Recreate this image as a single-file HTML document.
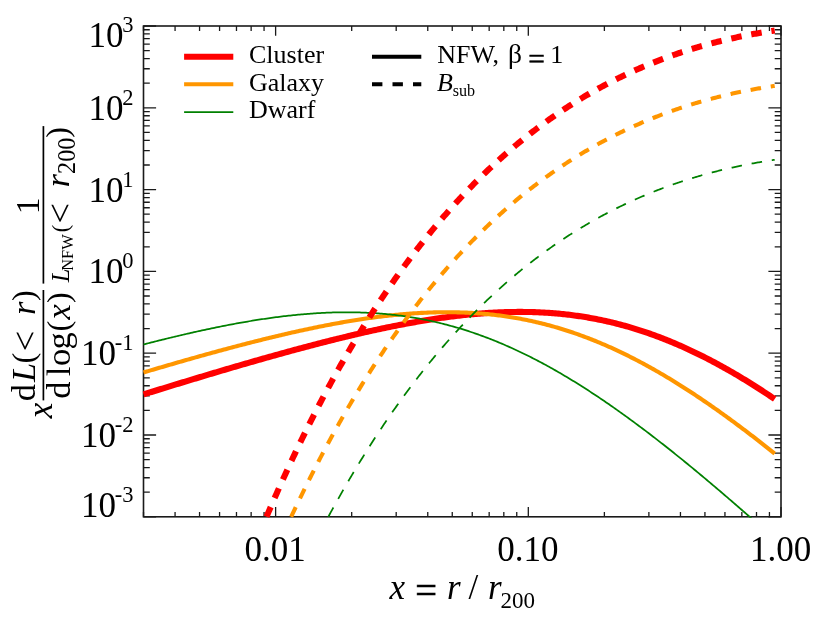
<!DOCTYPE html>
<html><head><meta charset="utf-8"><title>chart</title>
<style>html,body{margin:0;padding:0;background:#fff;}body{width:822px;height:618px;overflow:hidden;}svg{display:block;will-change:transform;}text{font-family:"Liberation Serif",serif;fill:#000;}.i{font-style:italic;}</style></head><body>
<svg width="822" height="618" viewBox="0 0 822 618">
<rect x="0" y="0" width="822" height="618" fill="#fff"/>
<defs><clipPath id="pc"><rect x="142.50" y="25.00" width="639.50" height="492.80"/></clipPath></defs>
<path d="M143.50,516.80 v-4.90 M143.50,26.00 v4.90 M175.07,516.80 v-4.90 M175.07,26.00 v4.90 M199.56,516.80 v-4.90 M199.56,26.00 v4.90 M219.57,516.80 v-4.90 M219.57,26.00 v4.90 M236.48,516.80 v-4.90 M236.48,26.00 v4.90 M251.14,516.80 v-4.90 M251.14,26.00 v4.90 M264.06,516.80 v-4.90 M264.06,26.00 v4.90 M275.62,516.80 v-9.70 M275.62,26.00 v9.70 M351.69,516.80 v-4.90 M351.69,26.00 v4.90 M396.19,516.80 v-4.90 M396.19,26.00 v4.90 M427.76,516.80 v-4.90 M427.76,26.00 v4.90 M452.25,516.80 v-4.90 M452.25,26.00 v4.90 M472.25,516.80 v-4.90 M472.25,26.00 v4.90 M489.17,516.80 v-4.90 M489.17,26.00 v4.90 M503.82,516.80 v-4.90 M503.82,26.00 v4.90 M516.75,516.80 v-4.90 M516.75,26.00 v4.90 M528.31,516.80 v-9.70 M528.31,26.00 v9.70 M604.38,516.80 v-4.90 M604.38,26.00 v4.90 M648.88,516.80 v-4.90 M648.88,26.00 v4.90 M680.45,516.80 v-4.90 M680.45,26.00 v4.90 M704.93,516.80 v-4.90 M704.93,26.00 v4.90 M724.94,516.80 v-4.90 M724.94,26.00 v4.90 M741.86,516.80 v-4.90 M741.86,26.00 v4.90 M756.51,516.80 v-4.90 M756.51,26.00 v4.90 M769.44,516.80 v-4.90 M769.44,26.00 v4.90 M781.00,516.80 v-9.70 M781.00,26.00 v9.70 M143.50,516.80 h12.60 M781.00,516.80 h-12.60 M143.50,492.18 h6.30 M781.00,492.18 h-6.30 M143.50,477.77 h6.30 M781.00,477.77 h-6.30 M143.50,467.55 h6.30 M781.00,467.55 h-6.30 M143.50,459.62 h6.30 M781.00,459.62 h-6.30 M143.50,453.15 h6.30 M781.00,453.15 h-6.30 M143.50,447.67 h6.30 M781.00,447.67 h-6.30 M143.50,442.93 h6.30 M781.00,442.93 h-6.30 M143.50,438.74 h6.30 M781.00,438.74 h-6.30 M143.50,435.00 h12.60 M781.00,435.00 h-12.60 M143.50,410.38 h6.30 M781.00,410.38 h-6.30 M143.50,395.97 h6.30 M781.00,395.97 h-6.30 M143.50,385.75 h6.30 M781.00,385.75 h-6.30 M143.50,377.82 h6.30 M781.00,377.82 h-6.30 M143.50,371.35 h6.30 M781.00,371.35 h-6.30 M143.50,365.87 h6.30 M781.00,365.87 h-6.30 M143.50,361.13 h6.30 M781.00,361.13 h-6.30 M143.50,356.94 h6.30 M781.00,356.94 h-6.30 M143.50,353.20 h12.60 M781.00,353.20 h-12.60 M143.50,328.58 h6.30 M781.00,328.58 h-6.30 M143.50,314.17 h6.30 M781.00,314.17 h-6.30 M143.50,303.95 h6.30 M781.00,303.95 h-6.30 M143.50,296.02 h6.30 M781.00,296.02 h-6.30 M143.50,289.55 h6.30 M781.00,289.55 h-6.30 M143.50,284.07 h6.30 M781.00,284.07 h-6.30 M143.50,279.33 h6.30 M781.00,279.33 h-6.30 M143.50,275.14 h6.30 M781.00,275.14 h-6.30 M143.50,271.40 h12.60 M781.00,271.40 h-12.60 M143.50,246.78 h6.30 M781.00,246.78 h-6.30 M143.50,232.37 h6.30 M781.00,232.37 h-6.30 M143.50,222.15 h6.30 M781.00,222.15 h-6.30 M143.50,214.22 h6.30 M781.00,214.22 h-6.30 M143.50,207.75 h6.30 M781.00,207.75 h-6.30 M143.50,202.27 h6.30 M781.00,202.27 h-6.30 M143.50,197.53 h6.30 M781.00,197.53 h-6.30 M143.50,193.34 h6.30 M781.00,193.34 h-6.30 M143.50,189.60 h12.60 M781.00,189.60 h-12.60 M143.50,164.98 h6.30 M781.00,164.98 h-6.30 M143.50,150.57 h6.30 M781.00,150.57 h-6.30 M143.50,140.35 h6.30 M781.00,140.35 h-6.30 M143.50,132.42 h6.30 M781.00,132.42 h-6.30 M143.50,125.95 h6.30 M781.00,125.95 h-6.30 M143.50,120.47 h6.30 M781.00,120.47 h-6.30 M143.50,115.73 h6.30 M781.00,115.73 h-6.30 M143.50,111.54 h6.30 M781.00,111.54 h-6.30 M143.50,107.80 h12.60 M781.00,107.80 h-12.60 M143.50,83.18 h6.30 M781.00,83.18 h-6.30 M143.50,68.77 h6.30 M781.00,68.77 h-6.30 M143.50,58.55 h6.30 M781.00,58.55 h-6.30 M143.50,50.62 h6.30 M781.00,50.62 h-6.30 M143.50,44.15 h6.30 M781.00,44.15 h-6.30 M143.50,38.67 h6.30 M781.00,38.67 h-6.30 M143.50,33.93 h6.30 M781.00,33.93 h-6.30 M143.50,29.74 h6.30 M781.00,29.74 h-6.30 M143.50,26.00 h12.60 M781.00,26.00 h-12.60" stroke="#1a1a1a" stroke-width="1.3" fill="none"/>
<rect x="143.50" y="26.00" width="637.50" height="490.80" fill="none" stroke="#1a1a1a" stroke-width="1.6"/>
<g clip-path="url(#pc)" fill="none" stroke-linecap="butt" stroke-linejoin="round">
<path d="M143.50,394.40 L145.08,393.91 L146.66,393.42 L148.23,392.93 L149.81,392.44 L151.39,391.96 L152.97,391.47 L154.55,390.98 L156.12,390.50 L157.70,390.01 L159.28,389.52 L160.86,389.04 L162.44,388.55 L164.01,388.07 L165.59,387.58 L167.17,387.10 L168.75,386.62 L170.33,386.13 L171.90,385.65 L173.48,385.17 L175.06,384.69 L176.64,384.20 L178.22,383.72 L179.79,383.24 L181.37,382.76 L182.95,382.28 L184.53,381.80 L186.11,381.32 L187.68,380.84 L189.26,380.37 L190.84,379.89 L192.42,379.41 L194.00,378.93 L195.57,378.46 L197.15,377.98 L198.73,377.51 L200.31,377.03 L201.89,376.56 L203.46,376.09 L205.04,375.61 L206.62,375.14 L208.20,374.67 L209.78,374.20 L211.35,373.72 L212.93,373.25 L214.51,372.78 L216.09,372.32 L217.67,371.85 L219.24,371.38 L220.82,370.91 L222.40,370.44 L223.98,369.98 L225.56,369.51 L227.13,369.05 L228.71,368.58 L230.29,368.12 L231.87,367.66 L233.45,367.19 L235.02,366.73 L236.60,366.27 L238.18,365.81 L239.76,365.35 L241.34,364.89 L242.91,364.44 L244.49,363.98 L246.07,363.52 L247.65,363.07 L249.23,362.61 L250.80,362.16 L252.38,361.70 L253.96,361.25 L255.54,360.80 L257.12,360.35 L258.69,359.90 L260.27,359.45 L261.85,359.00 L263.43,358.55 L265.01,358.11 L266.58,357.66 L268.16,357.22 L269.74,356.77 L271.32,356.33 L272.90,355.89 L274.47,355.45 L276.05,355.01 L277.63,354.57 L279.21,354.13 L280.79,353.69 L282.36,353.26 L283.94,352.82 L285.52,352.39 L287.10,351.95 L288.68,351.52 L290.25,351.09 L291.83,350.66 L293.41,350.23 L294.99,349.81 L296.57,349.38 L298.14,348.96 L299.72,348.53 L301.30,348.11 L302.88,347.69 L304.46,347.27 L306.03,346.85 L307.61,346.43 L309.19,346.01 L310.77,345.60 L312.35,345.19 L313.92,344.77 L315.50,344.36 L317.08,343.95 L318.66,343.55 L320.24,343.14 L321.81,342.73 L323.39,342.33 L324.97,341.93 L326.55,341.53 L328.13,341.13 L329.70,340.73 L331.28,340.33 L332.86,339.94 L334.44,339.54 L336.02,339.15 L337.59,338.76 L339.17,338.37 L340.75,337.99 L342.33,337.60 L343.91,337.22 L345.48,336.84 L347.06,336.46 L348.64,336.08 L350.22,335.70 L351.80,335.33 L353.37,334.96 L354.95,334.59 L356.53,334.22 L358.11,333.85 L359.69,333.49 L361.26,333.12 L362.84,332.76 L364.42,332.40 L366.00,332.05 L367.58,331.69 L369.15,331.34 L370.73,330.99 L372.31,330.64 L373.89,330.29 L375.47,329.95 L377.04,329.61 L378.62,329.27 L380.20,328.93 L381.78,328.59 L383.36,328.26 L384.93,327.93 L386.51,327.60 L388.09,327.28 L389.67,326.95 L391.25,326.63 L392.82,326.31 L394.40,326.00 L395.98,325.68 L397.56,325.37 L399.14,325.07 L400.71,324.76 L402.29,324.46 L403.87,324.16 L405.45,323.86 L407.03,323.57 L408.60,323.27 L410.18,322.99 L411.76,322.70 L413.34,322.42 L414.92,322.14 L416.49,321.86 L418.07,321.58 L419.65,321.31 L421.23,321.04 L422.81,320.78 L424.38,320.52 L425.96,320.26 L427.54,320.00 L429.12,319.75 L430.70,319.50 L432.27,319.26 L433.85,319.01 L435.43,318.77 L437.01,318.54 L438.59,318.31 L440.16,318.08 L441.74,317.85 L443.32,317.63 L444.90,317.41 L446.48,317.20 L448.05,316.99 L449.63,316.78 L451.21,316.57 L452.79,316.37 L454.37,316.18 L455.94,315.99 L457.52,315.80 L459.10,315.61 L460.68,315.43 L462.26,315.26 L463.83,315.09 L465.41,314.92 L466.99,314.75 L468.57,314.59 L470.15,314.44 L471.72,314.29 L473.30,314.14 L474.88,314.00 L476.46,313.86 L478.04,313.72 L479.61,313.59 L481.19,313.47 L482.77,313.35 L484.35,313.23 L485.93,313.12 L487.50,313.01 L489.08,312.91 L490.66,312.81 L492.24,312.72 L493.82,312.63 L495.39,312.55 L496.97,312.47 L498.55,312.40 L500.13,312.33 L501.71,312.27 L503.28,312.21 L504.86,312.16 L506.44,312.11 L508.02,312.07 L509.60,312.03 L511.17,312.00 L512.75,311.97 L514.33,311.95 L515.91,311.93 L517.49,311.92 L519.06,311.91 L520.64,311.91 L522.22,311.92 L523.80,311.93 L525.38,311.95 L526.95,311.97 L528.53,312.00 L530.11,312.03 L531.69,312.07 L533.27,312.12 L534.84,312.17 L536.42,312.22 L538.00,312.29 L539.58,312.36 L541.16,312.43 L542.73,312.51 L544.31,312.60 L545.89,312.69 L547.47,312.79 L549.05,312.90 L550.62,313.01 L552.20,313.13 L553.78,313.25 L555.36,313.38 L556.94,313.52 L558.51,313.66 L560.09,313.81 L561.67,313.96 L563.25,314.13 L564.83,314.30 L566.40,314.47 L567.98,314.65 L569.56,314.84 L571.14,315.04 L572.72,315.24 L574.29,315.45 L575.87,315.66 L577.45,315.89 L579.03,316.11 L580.61,316.35 L582.18,316.59 L583.76,316.84 L585.34,317.10 L586.92,317.36 L588.50,317.63 L590.07,317.91 L591.65,318.19 L593.23,318.48 L594.81,318.78 L596.39,319.09 L597.96,319.40 L599.54,319.72 L601.12,320.04 L602.70,320.38 L604.28,320.72 L605.85,321.06 L607.43,321.42 L609.01,321.78 L610.59,322.15 L612.17,322.53 L613.74,322.91 L615.32,323.30 L616.90,323.70 L618.48,324.11 L620.06,324.52 L621.63,324.94 L623.21,325.36 L624.79,325.80 L626.37,326.24 L627.95,326.69 L629.52,327.15 L631.10,327.61 L632.68,328.08 L634.26,328.56 L635.84,329.05 L637.41,329.54 L638.99,330.04 L640.57,330.55 L642.15,331.06 L643.73,331.58 L645.30,332.11 L646.88,332.65 L648.46,333.20 L650.04,333.75 L651.62,334.31 L653.19,334.87 L654.77,335.45 L656.35,336.03 L657.93,336.62 L659.51,337.21 L661.08,337.82 L662.66,338.43 L664.24,339.04 L665.82,339.67 L667.40,340.30 L668.97,340.94 L670.55,341.59 L672.13,342.24 L673.71,342.90 L675.29,343.57 L676.86,344.25 L678.44,344.93 L680.02,345.62 L681.60,346.31 L683.18,347.02 L684.75,347.73 L686.33,348.45 L687.91,349.17 L689.49,349.90 L691.07,350.64 L692.64,351.39 L694.22,352.14 L695.80,352.90 L697.38,353.67 L698.96,354.44 L700.53,355.22 L702.11,356.01 L703.69,356.80 L705.27,357.60 L706.85,358.41 L708.42,359.23 L710.00,360.05 L711.58,360.87 L713.16,361.71 L714.74,362.55 L716.31,363.40 L717.89,364.25 L719.47,365.11 L721.05,365.98 L722.63,366.85 L724.20,367.73 L725.78,368.62 L727.36,369.51 L728.94,370.41 L730.52,371.31 L732.09,372.22 L733.67,373.14 L735.25,374.06 L736.83,374.99 L738.41,375.93 L739.98,376.87 L741.56,377.82 L743.14,378.77 L744.72,379.73 L746.30,380.70 L747.87,381.67 L749.45,382.65 L751.03,383.63 L752.61,384.62 L754.19,385.62 L755.76,386.62 L757.34,387.62 L758.92,388.63 L760.50,389.65 L762.08,390.67 L763.65,391.70 L765.23,392.74 L766.81,393.77 L768.39,394.82 L769.97,395.87 L771.54,396.92 L773.12,397.98 L774.70,399.05" stroke="#ff0000" stroke-width="6.1"/>
<path d="M143.50,372.50 L145.08,372.03 L146.66,371.56 L148.23,371.09 L149.81,370.63 L151.39,370.16 L152.97,369.70 L154.55,369.23 L156.12,368.77 L157.70,368.30 L159.28,367.84 L160.86,367.38 L162.44,366.92 L164.01,366.46 L165.59,366.00 L167.17,365.54 L168.75,365.08 L170.33,364.62 L171.90,364.16 L173.48,363.71 L175.06,363.25 L176.64,362.80 L178.22,362.34 L179.79,361.89 L181.37,361.44 L182.95,360.99 L184.53,360.53 L186.11,360.09 L187.68,359.64 L189.26,359.19 L190.84,358.74 L192.42,358.29 L194.00,357.85 L195.57,357.40 L197.15,356.96 L198.73,356.52 L200.31,356.08 L201.89,355.64 L203.46,355.20 L205.04,354.76 L206.62,354.32 L208.20,353.88 L209.78,353.45 L211.35,353.01 L212.93,352.58 L214.51,352.15 L216.09,351.71 L217.67,351.28 L219.24,350.85 L220.82,350.43 L222.40,350.00 L223.98,349.57 L225.56,349.15 L227.13,348.73 L228.71,348.30 L230.29,347.88 L231.87,347.46 L233.45,347.04 L235.02,346.63 L236.60,346.21 L238.18,345.80 L239.76,345.38 L241.34,344.97 L242.91,344.56 L244.49,344.15 L246.07,343.74 L247.65,343.34 L249.23,342.93 L250.80,342.53 L252.38,342.13 L253.96,341.73 L255.54,341.33 L257.12,340.93 L258.69,340.53 L260.27,340.14 L261.85,339.75 L263.43,339.35 L265.01,338.96 L266.58,338.58 L268.16,338.19 L269.74,337.81 L271.32,337.42 L272.90,337.04 L274.47,336.66 L276.05,336.29 L277.63,335.91 L279.21,335.54 L280.79,335.16 L282.36,334.79 L283.94,334.43 L285.52,334.06 L287.10,333.69 L288.68,333.33 L290.25,332.97 L291.83,332.61 L293.41,332.26 L294.99,331.90 L296.57,331.55 L298.14,331.20 L299.72,330.85 L301.30,330.51 L302.88,330.16 L304.46,329.82 L306.03,329.48 L307.61,329.14 L309.19,328.81 L310.77,328.48 L312.35,328.15 L313.92,327.82 L315.50,327.49 L317.08,327.17 L318.66,326.85 L320.24,326.53 L321.81,326.22 L323.39,325.91 L324.97,325.60 L326.55,325.29 L328.13,324.98 L329.70,324.68 L331.28,324.38 L332.86,324.09 L334.44,323.79 L336.02,323.50 L337.59,323.21 L339.17,322.93 L340.75,322.64 L342.33,322.36 L343.91,322.09 L345.48,321.81 L347.06,321.54 L348.64,321.28 L350.22,321.01 L351.80,320.75 L353.37,320.49 L354.95,320.24 L356.53,319.99 L358.11,319.74 L359.69,319.49 L361.26,319.25 L362.84,319.01 L364.42,318.78 L366.00,318.55 L367.58,318.32 L369.15,318.09 L370.73,317.87 L372.31,317.66 L373.89,317.44 L375.47,317.23 L377.04,317.03 L378.62,316.82 L380.20,316.62 L381.78,316.43 L383.36,316.24 L384.93,316.05 L386.51,315.87 L388.09,315.69 L389.67,315.51 L391.25,315.34 L392.82,315.17 L394.40,315.01 L395.98,314.85 L397.56,314.70 L399.14,314.55 L400.71,314.40 L402.29,314.26 L403.87,314.12 L405.45,313.99 L407.03,313.86 L408.60,313.74 L410.18,313.62 L411.76,313.50 L413.34,313.39 L414.92,313.29 L416.49,313.18 L418.07,313.09 L419.65,313.00 L421.23,312.91 L422.81,312.83 L424.38,312.75 L425.96,312.68 L427.54,312.61 L429.12,312.55 L430.70,312.49 L432.27,312.44 L433.85,312.39 L435.43,312.35 L437.01,312.32 L438.59,312.29 L440.16,312.26 L441.74,312.24 L443.32,312.22 L444.90,312.21 L446.48,312.21 L448.05,312.21 L449.63,312.22 L451.21,312.23 L452.79,312.25 L454.37,312.27 L455.94,312.30 L457.52,312.34 L459.10,312.38 L460.68,312.43 L462.26,312.48 L463.83,312.54 L465.41,312.60 L466.99,312.67 L468.57,312.75 L470.15,312.83 L471.72,312.92 L473.30,313.01 L474.88,313.11 L476.46,313.22 L478.04,313.33 L479.61,313.45 L481.19,313.58 L482.77,313.71 L484.35,313.85 L485.93,313.99 L487.50,314.14 L489.08,314.30 L490.66,314.47 L492.24,314.64 L493.82,314.81 L495.39,315.00 L496.97,315.19 L498.55,315.38 L500.13,315.59 L501.71,315.80 L503.28,316.01 L504.86,316.24 L506.44,316.47 L508.02,316.71 L509.60,316.95 L511.17,317.20 L512.75,317.46 L514.33,317.72 L515.91,318.00 L517.49,318.27 L519.06,318.56 L520.64,318.85 L522.22,319.15 L523.80,319.46 L525.38,319.77 L526.95,320.09 L528.53,320.42 L530.11,320.76 L531.69,321.10 L533.27,321.45 L534.84,321.81 L536.42,322.17 L538.00,322.54 L539.58,322.92 L541.16,323.30 L542.73,323.70 L544.31,324.10 L545.89,324.50 L547.47,324.92 L549.05,325.34 L550.62,325.77 L552.20,326.20 L553.78,326.65 L555.36,327.10 L556.94,327.56 L558.51,328.02 L560.09,328.50 L561.67,328.98 L563.25,329.46 L564.83,329.96 L566.40,330.46 L567.98,330.97 L569.56,331.49 L571.14,332.01 L572.72,332.54 L574.29,333.08 L575.87,333.63 L577.45,334.18 L579.03,334.74 L580.61,335.31 L582.18,335.89 L583.76,336.47 L585.34,337.06 L586.92,337.66 L588.50,338.26 L590.07,338.87 L591.65,339.49 L593.23,340.12 L594.81,340.75 L596.39,341.40 L597.96,342.04 L599.54,342.70 L601.12,343.36 L602.70,344.03 L604.28,344.71 L605.85,345.39 L607.43,346.08 L609.01,346.78 L610.59,347.49 L612.17,348.20 L613.74,348.92 L615.32,349.65 L616.90,350.38 L618.48,351.12 L620.06,351.87 L621.63,352.62 L623.21,353.39 L624.79,354.15 L626.37,354.93 L627.95,355.71 L629.52,356.50 L631.10,357.30 L632.68,358.10 L634.26,358.91 L635.84,359.72 L637.41,360.55 L638.99,361.38 L640.57,362.21 L642.15,363.05 L643.73,363.90 L645.30,364.76 L646.88,365.62 L648.46,366.49 L650.04,367.36 L651.62,368.24 L653.19,369.13 L654.77,370.03 L656.35,370.93 L657.93,371.83 L659.51,372.75 L661.08,373.66 L662.66,374.59 L664.24,375.52 L665.82,376.46 L667.40,377.40 L668.97,378.35 L670.55,379.31 L672.13,380.27 L673.71,381.23 L675.29,382.21 L676.86,383.19 L678.44,384.17 L680.02,385.16 L681.60,386.16 L683.18,387.16 L684.75,388.17 L686.33,389.18 L687.91,390.20 L689.49,391.22 L691.07,392.25 L692.64,393.29 L694.22,394.33 L695.80,395.37 L697.38,396.42 L698.96,397.48 L700.53,398.54 L702.11,399.61 L703.69,400.68 L705.27,401.76 L706.85,402.84 L708.42,403.93 L710.00,405.02 L711.58,406.12 L713.16,407.22 L714.74,408.32 L716.31,409.44 L717.89,410.55 L719.47,411.67 L721.05,412.80 L722.63,413.93 L724.20,415.06 L725.78,416.20 L727.36,417.35 L728.94,418.50 L730.52,419.65 L732.09,420.81 L733.67,421.97 L735.25,423.14 L736.83,424.31 L738.41,425.48 L739.98,426.66 L741.56,427.84 L743.14,429.03 L744.72,430.22 L746.30,431.42 L747.87,432.62 L749.45,433.82 L751.03,435.03 L752.61,436.24 L754.19,437.46 L755.76,438.68 L757.34,439.90 L758.92,441.13 L760.50,442.36 L762.08,443.59 L763.65,444.83 L765.23,446.07 L766.81,447.31 L768.39,448.56 L769.97,449.81 L771.54,451.07 L773.12,452.33 L774.70,453.59" stroke="#ff9600" stroke-width="4.1"/>
<path d="M143.50,344.49 L145.08,344.08 L146.66,343.67 L148.23,343.27 L149.81,342.86 L151.39,342.46 L152.97,342.06 L154.55,341.66 L156.12,341.26 L157.70,340.86 L159.28,340.47 L160.86,340.07 L162.44,339.68 L164.01,339.29 L165.59,338.90 L167.17,338.52 L168.75,338.13 L170.33,337.75 L171.90,337.36 L173.48,336.98 L175.06,336.60 L176.64,336.23 L178.22,335.85 L179.79,335.48 L181.37,335.11 L182.95,334.74 L184.53,334.37 L186.11,334.00 L187.68,333.64 L189.26,333.28 L190.84,332.92 L192.42,332.56 L194.00,332.20 L195.57,331.85 L197.15,331.50 L198.73,331.15 L200.31,330.80 L201.89,330.46 L203.46,330.11 L205.04,329.77 L206.62,329.44 L208.20,329.10 L209.78,328.77 L211.35,328.43 L212.93,328.10 L214.51,327.78 L216.09,327.45 L217.67,327.13 L219.24,326.81 L220.82,326.50 L222.40,326.18 L223.98,325.87 L225.56,325.56 L227.13,325.25 L228.71,324.95 L230.29,324.65 L231.87,324.35 L233.45,324.05 L235.02,323.76 L236.60,323.47 L238.18,323.18 L239.76,322.90 L241.34,322.62 L242.91,322.34 L244.49,322.06 L246.07,321.79 L247.65,321.52 L249.23,321.25 L250.80,320.99 L252.38,320.73 L253.96,320.47 L255.54,320.22 L257.12,319.97 L258.69,319.72 L260.27,319.48 L261.85,319.24 L263.43,319.00 L265.01,318.77 L266.58,318.54 L268.16,318.31 L269.74,318.09 L271.32,317.87 L272.90,317.65 L274.47,317.44 L276.05,317.23 L277.63,317.02 L279.21,316.82 L280.79,316.62 L282.36,316.43 L283.94,316.24 L285.52,316.05 L287.10,315.87 L288.68,315.69 L290.25,315.52 L291.83,315.35 L293.41,315.18 L294.99,315.02 L296.57,314.87 L298.14,314.71 L299.72,314.56 L301.30,314.42 L302.88,314.28 L304.46,314.14 L306.03,314.01 L307.61,313.88 L309.19,313.76 L310.77,313.64 L312.35,313.53 L313.92,313.42 L315.50,313.32 L317.08,313.22 L318.66,313.12 L320.24,313.03 L321.81,312.95 L323.39,312.87 L324.97,312.79 L326.55,312.72 L328.13,312.66 L329.70,312.60 L331.28,312.54 L332.86,312.49 L334.44,312.44 L336.02,312.40 L337.59,312.37 L339.17,312.34 L340.75,312.32 L342.33,312.30 L343.91,312.28 L345.48,312.28 L347.06,312.27 L348.64,312.28 L350.22,312.29 L351.80,312.30 L353.37,312.32 L354.95,312.35 L356.53,312.38 L358.11,312.41 L359.69,312.46 L361.26,312.51 L362.84,312.56 L364.42,312.62 L366.00,312.69 L367.58,312.76 L369.15,312.84 L370.73,312.92 L372.31,313.01 L373.89,313.11 L375.47,313.21 L377.04,313.32 L378.62,313.43 L380.20,313.56 L381.78,313.68 L383.36,313.82 L384.93,313.96 L386.51,314.10 L388.09,314.26 L389.67,314.42 L391.25,314.58 L392.82,314.76 L394.40,314.94 L395.98,315.12 L397.56,315.31 L399.14,315.51 L400.71,315.72 L402.29,315.93 L403.87,316.15 L405.45,316.38 L407.03,316.61 L408.60,316.85 L410.18,317.09 L411.76,317.35 L413.34,317.61 L414.92,317.88 L416.49,318.15 L418.07,318.43 L419.65,318.72 L421.23,319.01 L422.81,319.32 L424.38,319.62 L425.96,319.94 L427.54,320.26 L429.12,320.59 L430.70,320.93 L432.27,321.28 L433.85,321.63 L435.43,321.99 L437.01,322.35 L438.59,322.73 L440.16,323.11 L441.74,323.49 L443.32,323.89 L444.90,324.29 L446.48,324.70 L448.05,325.12 L449.63,325.54 L451.21,325.97 L452.79,326.41 L454.37,326.86 L455.94,327.31 L457.52,327.77 L459.10,328.24 L460.68,328.71 L462.26,329.20 L463.83,329.69 L465.41,330.18 L466.99,330.69 L468.57,331.20 L470.15,331.72 L471.72,332.25 L473.30,332.78 L474.88,333.32 L476.46,333.87 L478.04,334.43 L479.61,334.99 L481.19,335.56 L482.77,336.14 L484.35,336.72 L485.93,337.32 L487.50,337.92 L489.08,338.52 L490.66,339.14 L492.24,339.76 L493.82,340.39 L495.39,341.03 L496.97,341.67 L498.55,342.32 L500.13,342.98 L501.71,343.64 L503.28,344.31 L504.86,344.99 L506.44,345.68 L508.02,346.37 L509.60,347.08 L511.17,347.78 L512.75,348.50 L514.33,349.22 L515.91,349.95 L517.49,350.68 L519.06,351.43 L520.64,352.18 L522.22,352.93 L523.80,353.70 L525.38,354.47 L526.95,355.25 L528.53,356.03 L530.11,356.82 L531.69,357.62 L533.27,358.42 L534.84,359.24 L536.42,360.05 L538.00,360.88 L539.58,361.71 L541.16,362.55 L542.73,363.39 L544.31,364.24 L545.89,365.10 L547.47,365.96 L549.05,366.84 L550.62,367.71 L552.20,368.60 L553.78,369.49 L555.36,370.38 L556.94,371.28 L558.51,372.19 L560.09,373.11 L561.67,374.03 L563.25,374.95 L564.83,375.89 L566.40,376.83 L567.98,377.77 L569.56,378.72 L571.14,379.68 L572.72,380.64 L574.29,381.61 L575.87,382.59 L577.45,383.57 L579.03,384.56 L580.61,385.55 L582.18,386.55 L583.76,387.55 L585.34,388.56 L586.92,389.57 L588.50,390.59 L590.07,391.62 L591.65,392.65 L593.23,393.69 L594.81,394.73 L596.39,395.78 L597.96,396.83 L599.54,397.89 L601.12,398.95 L602.70,400.02 L604.28,401.09 L605.85,402.17 L607.43,403.25 L609.01,404.34 L610.59,405.44 L612.17,406.54 L613.74,407.64 L615.32,408.75 L616.90,409.86 L618.48,410.98 L620.06,412.10 L621.63,413.23 L623.21,414.36 L624.79,415.50 L626.37,416.64 L627.95,417.78 L629.52,418.93 L631.10,420.09 L632.68,421.25 L634.26,422.41 L635.84,423.58 L637.41,424.75 L638.99,425.93 L640.57,427.11 L642.15,428.29 L643.73,429.48 L645.30,430.67 L646.88,431.87 L648.46,433.07 L650.04,434.28 L651.62,435.49 L653.19,436.70 L654.77,437.92 L656.35,439.14 L657.93,440.36 L659.51,441.59 L661.08,442.82 L662.66,444.05 L664.24,445.29 L665.82,446.54 L667.40,447.78 L668.97,449.03 L670.55,450.29 L672.13,451.54 L673.71,452.80 L675.29,454.07 L676.86,455.33 L678.44,456.60 L680.02,457.88 L681.60,459.15 L683.18,460.43 L684.75,461.71 L686.33,463.00 L687.91,464.29 L689.49,465.58 L691.07,466.88 L692.64,468.18 L694.22,469.48 L695.80,470.78 L697.38,472.09 L698.96,473.40 L700.53,474.71 L702.11,476.03 L703.69,477.34 L705.27,478.67 L706.85,479.99 L708.42,481.32 L710.00,482.64 L711.58,483.98 L713.16,485.31 L714.74,486.65 L716.31,487.99 L717.89,489.33 L719.47,490.67 L721.05,492.02 L722.63,493.37 L724.20,494.72 L725.78,496.07 L727.36,497.43 L728.94,498.79 L730.52,500.15 L732.09,501.51 L733.67,502.88 L735.25,504.25 L736.83,505.62 L738.41,506.99 L739.98,508.36 L741.56,509.74 L743.14,511.12 L744.72,512.50 L746.30,513.88 L747.87,515.26 L749.45,516.65 L751.03,518.04 L752.61,519.43 L754.19,520.82 L755.76,522.21 L757.34,523.61 L758.92,525.00 L760.50,526.40 L762.08,527.81 L763.65,529.21 L765.23,530.61 L766.81,532.02 L768.39,533.43 L769.97,534.84 L771.54,536.25 L773.12,537.66 L774.70,539.07" stroke="#008000" stroke-width="1.75"/>
<path d="M266.48,516.80 L267.75,513.83 L269.02,510.87 L270.30,507.92 L271.57,504.99 L272.84,502.08 L274.11,499.18 L275.38,496.29 L276.65,493.41 L277.92,490.55 L279.19,487.70 L280.46,484.87 L281.73,482.05 L283.00,479.24 L284.27,476.45 L285.54,473.67 L286.81,470.91 L288.08,468.15 L289.35,465.41 L290.62,462.69 L291.89,459.97 L293.16,457.27 L294.44,454.59 L295.71,451.91 L296.98,449.25 L298.25,446.60 L299.52,443.97 L300.79,441.35 L302.06,438.74 L303.33,436.14 L304.60,433.56 L305.87,430.98 L307.14,428.42 L308.41,425.88 L309.68,423.34 L310.95,420.82 L312.22,418.31 L313.49,415.81 L314.76,413.33 L316.03,410.86 L317.31,408.39 L318.58,405.95 L319.85,403.51 L321.12,401.08 L322.39,398.67 L323.66,396.27 L324.93,393.88 L326.20,391.50 L327.47,389.14 L328.74,386.78 L330.01,384.44 L331.28,382.11 L332.55,379.79 L333.82,377.48 L335.09,375.19 L336.36,372.90 L337.63,370.63 L338.90,368.37 L340.17,366.12 L341.45,363.88 L342.72,361.65 L343.99,359.43 L345.26,357.23 L346.53,355.03 L347.80,352.85 L349.07,350.67 L350.34,348.51 L351.61,346.36 L352.88,344.22 L354.15,342.09 L355.42,339.97 L356.69,337.86 L357.96,335.76 L359.23,333.68 L360.50,331.60 L361.77,329.53 L363.04,327.48 L364.32,325.43 L365.59,323.40 L366.86,321.37 L368.13,319.36 L369.40,317.36 L370.67,315.36 L371.94,313.38 L373.21,311.41 L374.48,309.44 L375.75,307.49 L377.02,305.55 L378.29,303.61 L379.56,301.69 L380.83,299.78 L382.10,297.87 L383.37,295.98 L384.64,294.09 L385.91,292.22 L387.18,290.36 L388.46,288.50 L389.73,286.65 L391.00,284.82 L392.27,282.99 L393.54,281.18 L394.81,279.37 L396.08,277.57 L397.35,275.78 L398.62,274.00 L399.89,272.23 L401.16,270.47 L402.43,268.72 L403.70,266.98 L404.97,265.25 L406.24,263.52 L407.51,261.81 L408.78,260.10 L410.05,258.40 L411.33,256.72 L412.60,255.04 L413.87,253.37 L415.14,251.71 L416.41,250.05 L417.68,248.41 L418.95,246.77 L420.22,245.15 L421.49,243.53 L422.76,241.92 L424.03,240.32 L425.30,238.73 L426.57,237.15 L427.84,235.57 L429.11,234.00 L430.38,232.45 L431.65,230.90 L432.92,229.36 L434.19,227.82 L435.47,226.30 L436.74,224.78 L438.01,223.27 L439.28,221.77 L440.55,220.28 L441.82,218.80 L443.09,217.32 L444.36,215.85 L445.63,214.39 L446.90,212.94 L448.17,211.50 L449.44,210.06 L450.71,208.64 L451.98,207.22 L453.25,205.80 L454.52,204.40 L455.79,203.00 L457.06,201.61 L458.34,200.23 L459.61,198.86 L460.88,197.49 L462.15,196.13 L463.42,194.78 L464.69,193.44 L465.96,192.10 L467.23,190.78 L468.50,189.45 L469.77,188.14 L471.04,186.84 L472.31,185.54 L473.58,184.24 L474.85,182.96 L476.12,181.68 L477.39,180.41 L478.66,179.15 L479.93,177.90 L481.20,176.65 L482.48,175.41 L483.75,174.17 L485.02,172.95 L486.29,171.73 L487.56,170.51 L488.83,169.31 L490.10,168.11 L491.37,166.92 L492.64,165.73 L493.91,164.55 L495.18,163.38 L496.45,162.22 L497.72,161.06 L498.99,159.91 L500.26,158.76 L501.53,157.62 L502.80,156.49 L504.07,155.37 L505.35,154.25 L506.62,153.14 L507.89,152.03 L509.16,150.93 L510.43,149.84 L511.70,148.76 L512.97,147.68 L514.24,146.61 L515.51,145.54 L516.78,144.48 L518.05,143.43 L519.32,142.38 L520.59,141.34 L521.86,140.30 L523.13,139.27 L524.40,138.25 L525.67,137.24 L526.94,136.23 L528.21,135.22 L529.49,134.22 L530.76,133.23 L532.03,132.25 L533.30,131.27 L534.57,130.29 L535.84,129.33 L537.11,128.36 L538.38,127.41 L539.65,126.46 L540.92,125.51 L542.19,124.58 L543.46,123.64 L544.73,122.72 L546.00,121.80 L547.27,120.88 L548.54,119.97 L549.81,119.07 L551.08,118.17 L552.36,117.28 L553.63,116.39 L554.90,115.51 L556.17,114.63 L557.44,113.76 L558.71,112.90 L559.98,112.04 L561.25,111.19 L562.52,110.34 L563.79,109.50 L565.06,108.66 L566.33,107.83 L567.60,107.00 L568.87,106.18 L570.14,105.37 L571.41,104.56 L572.68,103.75 L573.95,102.95 L575.22,102.16 L576.50,101.37 L577.77,100.58 L579.04,99.81 L580.31,99.03 L581.58,98.26 L582.85,97.50 L584.12,96.74 L585.39,95.99 L586.66,95.24 L587.93,94.50 L589.20,93.76 L590.47,93.03 L591.74,92.30 L593.01,91.58 L594.28,90.86 L595.55,90.15 L596.82,89.44 L598.09,88.73 L599.37,88.04 L600.64,87.34 L601.91,86.65 L603.18,85.97 L604.45,85.29 L605.72,84.62 L606.99,83.95 L608.26,83.28 L609.53,82.62 L610.80,81.96 L612.07,81.31 L613.34,80.67 L614.61,80.03 L615.88,79.39 L617.15,78.76 L618.42,78.13 L619.69,77.50 L620.96,76.89 L622.24,76.27 L623.51,75.66 L624.78,75.06 L626.05,74.46 L627.32,73.86 L628.59,73.27 L629.86,72.68 L631.13,72.10 L632.40,71.52 L633.67,70.94 L634.94,70.37 L636.21,69.81 L637.48,69.24 L638.75,68.69 L640.02,68.13 L641.29,67.59 L642.56,67.04 L643.83,66.50 L645.10,65.96 L646.38,65.43 L647.65,64.90 L648.92,64.38 L650.19,63.86 L651.46,63.35 L652.73,62.83 L654.00,62.33 L655.27,61.82 L656.54,61.32 L657.81,60.83 L659.08,60.34 L660.35,59.85 L661.62,59.37 L662.89,58.89 L664.16,58.41 L665.43,57.94 L666.70,57.47 L667.97,57.01 L669.25,56.55 L670.52,56.10 L671.79,55.64 L673.06,55.20 L674.33,54.75 L675.60,54.31 L676.87,53.87 L678.14,53.44 L679.41,53.01 L680.68,52.59 L681.95,52.17 L683.22,51.75 L684.49,51.33 L685.76,50.92 L687.03,50.52 L688.30,50.11 L689.57,49.71 L690.84,49.32 L692.11,48.93 L693.39,48.54 L694.66,48.15 L695.93,47.77 L697.20,47.39 L698.47,47.02 L699.74,46.65 L701.01,46.28 L702.28,45.92 L703.55,45.56 L704.82,45.20 L706.09,44.85 L707.36,44.50 L708.63,44.15 L709.90,43.81 L711.17,43.47 L712.44,43.13 L713.71,42.80 L714.98,42.47 L716.26,42.14 L717.53,41.82 L718.80,41.50 L720.07,41.19 L721.34,40.87 L722.61,40.56 L723.88,40.26 L725.15,39.95 L726.42,39.65 L727.69,39.36 L728.96,39.06 L730.23,38.78 L731.50,38.49 L732.77,38.21 L734.04,37.92 L735.31,37.65 L736.58,37.37 L737.85,37.10 L739.12,36.84 L740.40,36.57 L741.67,36.31 L742.94,36.05 L744.21,35.80 L745.48,35.54 L746.75,35.30 L748.02,35.05 L749.29,34.81 L750.56,34.57 L751.83,34.33 L753.10,34.10 L754.37,33.87 L755.64,33.64 L756.91,33.41 L758.18,33.19 L759.45,32.97 L760.72,32.76 L761.99,32.54 L763.27,32.33 L764.54,32.13 L765.81,31.92 L767.08,31.72 L768.35,31.52 L769.62,31.33 L770.89,31.13 L772.16,30.95 L773.43,30.76 L774.70,30.57" stroke="#ff0000" stroke-width="6.1" stroke-dasharray="10.6 9.82" stroke-dashoffset="0"/>
<path d="M291.19,516.80 L292.40,514.22 L293.61,511.66 L294.82,509.11 L296.03,506.57 L297.24,504.04 L298.45,501.52 L299.66,499.02 L300.86,496.52 L302.07,494.04 L303.28,491.57 L304.49,489.11 L305.70,486.66 L306.91,484.22 L308.12,481.80 L309.33,479.38 L310.53,476.98 L311.74,474.59 L312.95,472.21 L314.16,469.84 L315.37,467.48 L316.58,465.13 L317.79,462.80 L319.00,460.47 L320.20,458.16 L321.41,455.85 L322.62,453.56 L323.83,451.28 L325.04,449.00 L326.25,446.74 L327.46,444.49 L328.67,442.25 L329.87,440.02 L331.08,437.80 L332.29,435.60 L333.50,433.40 L334.71,431.21 L335.92,429.03 L337.13,426.87 L338.34,424.71 L339.54,422.56 L340.75,420.43 L341.96,418.30 L343.17,416.19 L344.38,414.08 L345.59,411.98 L346.80,409.90 L348.01,407.82 L349.21,405.76 L350.42,403.70 L351.63,401.65 L352.84,399.62 L354.05,397.59 L355.26,395.57 L356.47,393.57 L357.68,391.57 L358.88,389.58 L360.09,387.60 L361.30,385.63 L362.51,383.67 L363.72,381.72 L364.93,379.78 L366.14,377.85 L367.35,375.93 L368.56,374.02 L369.76,372.11 L370.97,370.22 L372.18,368.33 L373.39,366.46 L374.60,364.59 L375.81,362.73 L377.02,360.88 L378.23,359.04 L379.43,357.21 L380.64,355.39 L381.85,353.58 L383.06,351.78 L384.27,349.98 L385.48,348.19 L386.69,346.42 L387.90,344.65 L389.10,342.89 L390.31,341.14 L391.52,339.40 L392.73,337.66 L393.94,335.94 L395.15,334.22 L396.36,332.51 L397.57,330.81 L398.77,329.12 L399.98,327.44 L401.19,325.76 L402.40,324.10 L403.61,322.44 L404.82,320.79 L406.03,319.15 L407.24,317.51 L408.44,315.89 L409.65,314.27 L410.86,312.66 L412.07,311.06 L413.28,309.47 L414.49,307.88 L415.70,306.31 L416.91,304.74 L418.11,303.18 L419.32,301.63 L420.53,300.08 L421.74,298.54 L422.95,297.01 L424.16,295.49 L425.37,293.98 L426.58,292.47 L427.78,290.97 L428.99,289.48 L430.20,288.00 L431.41,286.52 L432.62,285.06 L433.83,283.60 L435.04,282.14 L436.25,280.70 L437.45,279.26 L438.66,277.83 L439.87,276.41 L441.08,274.99 L442.29,273.58 L443.50,272.18 L444.71,270.79 L445.92,269.40 L447.12,268.02 L448.33,266.65 L449.54,265.28 L450.75,263.92 L451.96,262.57 L453.17,261.23 L454.38,259.89 L455.59,258.56 L456.79,257.24 L458.00,255.92 L459.21,254.61 L460.42,253.31 L461.63,252.02 L462.84,250.73 L464.05,249.45 L465.26,248.17 L466.46,246.91 L467.67,245.64 L468.88,244.39 L470.09,243.14 L471.30,241.90 L472.51,240.67 L473.72,239.44 L474.93,238.22 L476.14,237.00 L477.34,235.80 L478.55,234.59 L479.76,233.40 L480.97,232.21 L482.18,231.03 L483.39,229.85 L484.60,228.68 L485.81,227.52 L487.01,226.36 L488.22,225.21 L489.43,224.07 L490.64,222.93 L491.85,221.80 L493.06,220.67 L494.27,219.55 L495.48,218.44 L496.68,217.33 L497.89,216.23 L499.10,215.14 L500.31,214.05 L501.52,212.97 L502.73,211.89 L503.94,210.82 L505.15,209.76 L506.35,208.70 L507.56,207.65 L508.77,206.60 L509.98,205.56 L511.19,204.52 L512.40,203.49 L513.61,202.47 L514.82,201.45 L516.02,200.44 L517.23,199.43 L518.44,198.43 L519.65,197.44 L520.86,196.45 L522.07,195.47 L523.28,194.49 L524.49,193.52 L525.69,192.55 L526.90,191.59 L528.11,190.63 L529.32,189.68 L530.53,188.74 L531.74,187.80 L532.95,186.87 L534.16,185.94 L535.36,185.02 L536.57,184.10 L537.78,183.19 L538.99,182.28 L540.20,181.38 L541.41,180.48 L542.62,179.59 L543.83,178.71 L545.03,177.83 L546.24,176.95 L547.45,176.08 L548.66,175.22 L549.87,174.36 L551.08,173.51 L552.29,172.66 L553.50,171.81 L554.70,170.97 L555.91,170.14 L557.12,169.31 L558.33,168.49 L559.54,167.67 L560.75,166.86 L561.96,166.05 L563.17,165.24 L564.37,164.44 L565.58,163.65 L566.79,162.86 L568.00,162.08 L569.21,161.30 L570.42,160.52 L571.63,159.75 L572.84,158.99 L574.05,158.23 L575.25,157.47 L576.46,156.72 L577.67,155.98 L578.88,155.23 L580.09,154.50 L581.30,153.77 L582.51,153.04 L583.72,152.32 L584.92,151.60 L586.13,150.88 L587.34,150.17 L588.55,149.47 L589.76,148.77 L590.97,148.08 L592.18,147.38 L593.39,146.70 L594.59,146.02 L595.80,145.34 L597.01,144.67 L598.22,144.00 L599.43,143.33 L600.64,142.67 L601.85,142.02 L603.06,141.37 L604.26,140.72 L605.47,140.08 L606.68,139.44 L607.89,138.81 L609.10,138.18 L610.31,137.55 L611.52,136.93 L612.73,136.31 L613.93,135.70 L615.14,135.09 L616.35,134.49 L617.56,133.89 L618.77,133.29 L619.98,132.70 L621.19,132.11 L622.40,131.53 L623.60,130.95 L624.81,130.37 L626.02,129.80 L627.23,129.23 L628.44,128.67 L629.65,128.11 L630.86,127.55 L632.07,127.00 L633.27,126.45 L634.48,125.91 L635.69,125.37 L636.90,124.83 L638.11,124.30 L639.32,123.77 L640.53,123.25 L641.74,122.73 L642.94,122.21 L644.15,121.70 L645.36,121.19 L646.57,120.68 L647.78,120.18 L648.99,119.68 L650.20,119.19 L651.41,118.70 L652.61,118.21 L653.82,117.73 L655.03,117.25 L656.24,116.77 L657.45,116.30 L658.66,115.83 L659.87,115.37 L661.08,114.91 L662.28,114.45 L663.49,113.99 L664.70,113.54 L665.91,113.10 L667.12,112.65 L668.33,112.21 L669.54,111.78 L670.75,111.35 L671.95,110.92 L673.16,110.49 L674.37,110.07 L675.58,109.65 L676.79,109.23 L678.00,108.82 L679.21,108.41 L680.42,108.01 L681.63,107.61 L682.83,107.21 L684.04,106.81 L685.25,106.42 L686.46,106.03 L687.67,105.65 L688.88,105.26 L690.09,104.89 L691.30,104.51 L692.50,104.14 L693.71,103.77 L694.92,103.40 L696.13,103.04 L697.34,102.68 L698.55,102.33 L699.76,101.97 L700.97,101.62 L702.17,101.28 L703.38,100.94 L704.59,100.60 L705.80,100.26 L707.01,99.92 L708.22,99.59 L709.43,99.27 L710.64,98.94 L711.84,98.62 L713.05,98.30 L714.26,97.99 L715.47,97.68 L716.68,97.37 L717.89,97.06 L719.10,96.76 L720.31,96.46 L721.51,96.16 L722.72,95.87 L723.93,95.58 L725.14,95.29 L726.35,95.00 L727.56,94.72 L728.77,94.44 L729.98,94.16 L731.18,93.89 L732.39,93.62 L733.60,93.35 L734.81,93.09 L736.02,92.83 L737.23,92.57 L738.44,92.31 L739.65,92.06 L740.85,91.81 L742.06,91.56 L743.27,91.32 L744.48,91.07 L745.69,90.83 L746.90,90.60 L748.11,90.36 L749.32,90.13 L750.52,89.91 L751.73,89.68 L752.94,89.46 L754.15,89.24 L755.36,89.02 L756.57,88.81 L757.78,88.59 L758.99,88.38 L760.19,88.18 L761.40,87.97 L762.61,87.77 L763.82,87.57 L765.03,87.38 L766.24,87.19 L767.45,86.99 L768.66,86.81 L769.86,86.62 L771.07,86.44 L772.28,86.26 L773.49,86.08 L774.70,85.91" stroke="#ff9600" stroke-width="4.1" stroke-dasharray="10.6 9.82" stroke-dashoffset="0"/>
<path d="M328.32,516.80 L329.44,514.74 L330.55,512.69 L331.67,510.64 L332.79,508.61 L333.90,506.58 L335.02,504.57 L336.13,502.56 L337.25,500.56 L338.37,498.57 L339.48,496.59 L340.60,494.61 L341.71,492.65 L342.83,490.69 L343.94,488.75 L345.06,486.81 L346.18,484.88 L347.29,482.96 L348.41,481.04 L349.52,479.14 L350.64,477.24 L351.76,475.35 L352.87,473.47 L353.99,471.60 L355.10,469.74 L356.22,467.89 L357.34,466.04 L358.45,464.20 L359.57,462.37 L360.68,460.55 L361.80,458.73 L362.92,456.93 L364.03,455.13 L365.15,453.34 L366.26,451.56 L367.38,449.79 L368.50,448.02 L369.61,446.26 L370.73,444.51 L371.84,442.77 L372.96,441.03 L374.08,439.31 L375.19,437.59 L376.31,435.88 L377.42,434.17 L378.54,432.48 L379.66,430.79 L380.77,429.11 L381.89,427.44 L383.00,425.77 L384.12,424.11 L385.23,422.46 L386.35,420.82 L387.47,419.18 L388.58,417.56 L389.70,415.94 L390.81,414.32 L391.93,412.72 L393.05,411.12 L394.16,409.53 L395.28,407.94 L396.39,406.37 L397.51,404.80 L398.63,403.24 L399.74,401.68 L400.86,400.13 L401.97,398.59 L403.09,397.06 L404.21,395.53 L405.32,394.01 L406.44,392.50 L407.55,390.99 L408.67,389.50 L409.79,388.00 L410.90,386.52 L412.02,385.04 L413.13,383.57 L414.25,382.11 L415.37,380.65 L416.48,379.20 L417.60,377.75 L418.71,376.32 L419.83,374.89 L420.95,373.46 L422.06,372.05 L423.18,370.64 L424.29,369.23 L425.41,367.84 L426.52,366.45 L427.64,365.06 L428.76,363.68 L429.87,362.31 L430.99,360.95 L432.10,359.59 L433.22,358.24 L434.34,356.89 L435.45,355.56 L436.57,354.22 L437.68,352.90 L438.80,351.58 L439.92,350.26 L441.03,348.96 L442.15,347.66 L443.26,346.36 L444.38,345.07 L445.50,343.79 L446.61,342.51 L447.73,341.24 L448.84,339.98 L449.96,338.72 L451.08,337.47 L452.19,336.22 L453.31,334.99 L454.42,333.75 L455.54,332.52 L456.66,331.30 L457.77,330.09 L458.89,328.88 L460.00,327.67 L461.12,326.47 L462.24,325.28 L463.35,324.10 L464.47,322.91 L465.58,321.74 L466.70,320.57 L467.81,319.41 L468.93,318.25 L470.05,317.10 L471.16,315.95 L472.28,314.81 L473.39,313.68 L474.51,312.55 L475.63,311.42 L476.74,310.31 L477.86,309.19 L478.97,308.09 L480.09,306.98 L481.21,305.89 L482.32,304.80 L483.44,303.71 L484.55,302.63 L485.67,301.56 L486.79,300.49 L487.90,299.43 L489.02,298.37 L490.13,297.32 L491.25,296.27 L492.37,295.23 L493.48,294.19 L494.60,293.16 L495.71,292.13 L496.83,291.11 L497.95,290.10 L499.06,289.09 L500.18,288.08 L501.29,287.08 L502.41,286.09 L503.53,285.10 L504.64,284.11 L505.76,283.13 L506.87,282.16 L507.99,281.19 L509.10,280.22 L510.22,279.26 L511.34,278.31 L512.45,277.36 L513.57,276.41 L514.68,275.47 L515.80,274.54 L516.92,273.61 L518.03,272.68 L519.15,271.76 L520.26,270.85 L521.38,269.94 L522.50,269.03 L523.61,268.13 L524.73,267.23 L525.84,266.34 L526.96,265.46 L528.08,264.57 L529.19,263.70 L530.31,262.82 L531.42,261.96 L532.54,261.09 L533.66,260.23 L534.77,259.38 L535.89,258.53 L537.00,257.69 L538.12,256.84 L539.24,256.01 L540.35,255.18 L541.47,254.35 L542.58,253.53 L543.70,252.71 L544.82,251.90 L545.93,251.09 L547.05,250.29 L548.16,249.49 L549.28,248.69 L550.39,247.90 L551.51,247.11 L552.63,246.33 L553.74,245.55 L554.86,244.78 L555.97,244.01 L557.09,243.24 L558.21,242.48 L559.32,241.73 L560.44,240.97 L561.55,240.23 L562.67,239.48 L563.79,238.74 L564.90,238.01 L566.02,237.28 L567.13,236.55 L568.25,235.83 L569.37,235.11 L570.48,234.39 L571.60,233.68 L572.71,232.98 L573.83,232.27 L574.95,231.57 L576.06,230.88 L577.18,230.19 L578.29,229.50 L579.41,228.82 L580.53,228.14 L581.64,227.47 L582.76,226.80 L583.87,226.13 L584.99,225.47 L586.11,224.81 L587.22,224.16 L588.34,223.50 L589.45,222.86 L590.57,222.21 L591.68,221.57 L592.80,220.94 L593.92,220.31 L595.03,219.68 L596.15,219.06 L597.26,218.44 L598.38,217.82 L599.50,217.21 L600.61,216.60 L601.73,215.99 L602.84,215.39 L603.96,214.79 L605.08,214.20 L606.19,213.61 L607.31,213.02 L608.42,212.44 L609.54,211.86 L610.66,211.28 L611.77,210.71 L612.89,210.14 L614.00,209.57 L615.12,209.01 L616.24,208.45 L617.35,207.90 L618.47,207.35 L619.58,206.80 L620.70,206.26 L621.82,205.72 L622.93,205.18 L624.05,204.64 L625.16,204.11 L626.28,203.59 L627.40,203.06 L628.51,202.54 L629.63,202.03 L630.74,201.51 L631.86,201.00 L632.97,200.50 L634.09,199.99 L635.21,199.49 L636.32,199.00 L637.44,198.51 L638.55,198.02 L639.67,197.53 L640.79,197.05 L641.90,196.57 L643.02,196.09 L644.13,195.62 L645.25,195.14 L646.37,194.68 L647.48,194.21 L648.60,193.75 L649.71,193.30 L650.83,192.84 L651.95,192.39 L653.06,191.94 L654.18,191.50 L655.29,191.06 L656.41,190.62 L657.53,190.18 L658.64,189.75 L659.76,189.32 L660.87,188.89 L661.99,188.47 L663.11,188.05 L664.22,187.63 L665.34,187.22 L666.45,186.81 L667.57,186.40 L668.69,186.00 L669.80,185.59 L670.92,185.19 L672.03,184.80 L673.15,184.41 L674.26,184.02 L675.38,183.63 L676.50,183.24 L677.61,182.86 L678.73,182.48 L679.84,182.11 L680.96,181.74 L682.08,181.37 L683.19,181.00 L684.31,180.64 L685.42,180.27 L686.54,179.92 L687.66,179.56 L688.77,179.21 L689.89,178.86 L691.00,178.51 L692.12,178.17 L693.24,177.82 L694.35,177.49 L695.47,177.15 L696.58,176.82 L697.70,176.49 L698.82,176.16 L699.93,175.83 L701.05,175.51 L702.16,175.19 L703.28,174.87 L704.40,174.56 L705.51,174.25 L706.63,173.94 L707.74,173.63 L708.86,173.33 L709.98,173.03 L711.09,172.73 L712.21,172.44 L713.32,172.14 L714.44,171.85 L715.55,171.56 L716.67,171.28 L717.79,171.00 L718.90,170.72 L720.02,170.44 L721.13,170.16 L722.25,169.89 L723.37,169.62 L724.48,169.35 L725.60,169.09 L726.71,168.83 L727.83,168.57 L728.95,168.31 L730.06,168.06 L731.18,167.80 L732.29,167.55 L733.41,167.31 L734.53,167.06 L735.64,166.82 L736.76,166.58 L737.87,166.34 L738.99,166.11 L740.11,165.87 L741.22,165.64 L742.34,165.41 L743.45,165.19 L744.57,164.97 L745.69,164.75 L746.80,164.53 L747.92,164.31 L749.03,164.10 L750.15,163.89 L751.27,163.68 L752.38,163.47 L753.50,163.27 L754.61,163.06 L755.73,162.86 L756.84,162.67 L757.96,162.47 L759.08,162.28 L760.19,162.09 L761.31,161.90 L762.42,161.71 L763.54,161.53 L764.66,161.35 L765.77,161.17 L766.89,160.99 L768.00,160.82 L769.12,160.65 L770.24,160.48 L771.35,160.31 L772.47,160.14 L773.58,159.98 L774.70,159.82" stroke="#008000" stroke-width="1.75" stroke-dasharray="10.6 9.82" stroke-dashoffset="0"/>
</g>
<text x="133.55" y="46.8" text-anchor="end" font-size="35">10<tspan font-size="22.5" dx="-1.3" dy="-15.0">3</tspan></text>
<text x="133.55" y="119.7" text-anchor="end" font-size="35">10<tspan font-size="22.5" dx="-1.3" dy="-15.0">2</tspan></text>
<text x="133.55" y="201.5" text-anchor="end" font-size="35">10<tspan font-size="22.5" dx="-1.3" dy="-15.0">1</tspan></text>
<text x="133.55" y="283.3" text-anchor="end" font-size="35">10<tspan font-size="22.5" dx="-1.3" dy="-15.0">0</tspan></text>
<text x="133.55" y="365.1" text-anchor="end" font-size="35">10<tspan font-size="22.5" dx="-1.3" dy="-15.0">-1</tspan></text>
<text x="133.55" y="446.9" text-anchor="end" font-size="35">10<tspan font-size="22.5" dx="-1.3" dy="-15.0">-2</tspan></text>
<text x="133.55" y="516.8" text-anchor="end" font-size="35">10<tspan font-size="22.5" dx="-1.3" dy="-15.0">-3</tspan></text>
<text x="275.1" y="561.2" text-anchor="middle" font-size="35">0.01</text>
<text x="527.8" y="561.2" text-anchor="middle" font-size="35">0.10</text>
<text x="780.5" y="561.2" text-anchor="middle" font-size="35">1.00</text>
<text x="389.43" y="599.00" font-size="35" class="i">x</text>
<text x="415.18" y="603.20" font-size="38.5" stroke="#000" stroke-width="0.7">=</text>
<text x="446.88" y="599.00" font-size="35" class="i">r</text>
<text x="468.40" y="599.00" font-size="35">/</text>
<text x="487.98" y="599.00" font-size="35" class="i">r</text>
<text x="500.49" y="607.60" font-size="23.0">200</text>
<g fill="none">
<path d="M184.1,56.75 H233.3" stroke="#ff0000" stroke-width="6.1"/>
<path d="M184.1,84.25 H233.3" stroke="#ff9600" stroke-width="4.1"/>
<path d="M184.1,112.0 H233.3" stroke="#008000" stroke-width="1.75"/>
<path d="M372,56.8 H421.3" stroke="#000" stroke-width="4.1"/>
<path d="M372,84.3 H421.3" stroke="#000" stroke-width="4.1" stroke-dasharray="10.4 10.1"/>
</g>
<text x="249.0" y="63.3" font-size="26.0">Cluster</text>
<text x="249.0" y="90.8" font-size="26.0">Galaxy</text>
<text x="249.0" y="118.1" font-size="26.0">Dwarf</text>
<text x="437.2" y="63.2" font-size="26.0">NFW,</text>
<text x="508.03" y="63.20" font-size="27.5">β</text>
<text x="528.13" y="68.50" font-size="29.5" stroke="#000" stroke-width="0.5">=</text>
<text x="550.31" y="63.20" font-size="26.0">1</text>
<text x="436.9" y="91.0" font-size="26.0"><tspan class="i">B</tspan><tspan font-size="16.1" dy="5.4">sub</tspan></text>
<g transform="rotate(-90)">
<text x="-418.17" y="52.00" font-size="35" class="i">x</text>
<text x="-401.15" y="34.80" font-size="34.5">d</text>
<text x="-382.00" y="34.60" font-size="34.5" class="i">L</text>
<text x="-363.42" y="33.80" font-size="32.2">(</text>
<text x="-351.32" y="37.20" font-size="36.5">&lt;</text>
<text x="-315.00" y="34.60" font-size="34.5" class="i">r</text>
<text x="-301.04" y="33.80" font-size="32.2">)</text>
<text x="-398.85" y="69.70" font-size="34.5">d</text>
<text x="-376.19" y="69.70" font-size="34.5">l</text>
<text x="-366.11" y="69.70" font-size="34.5">o</text>
<text x="-349.48" y="69.70" font-size="34.5">g</text>
<text x="-331.42" y="68.50" font-size="32.2">(</text>
<text x="-319.58" y="69.70" font-size="34.5" class="i">x</text>
<text x="-303.04" y="68.50" font-size="32.2">)</text>
<text x="-214.14" y="38.80" font-size="33.5">1</text>
<text x="-282.31" y="68.60" font-size="24.5" class="i">L</text>
<text x="-270.77" y="73.00" font-size="16.4">NFW</text>
<text x="-232.37" y="68.30" font-size="22.1">(</text>
<text x="-223.52" y="72.00" font-size="36.5">&lt;</text>
<text x="-187.18" y="69.30" font-size="34.0" class="i">r</text>
<text x="-173.96" y="75.00" font-size="24.2">200</text>
<text x="-137.64" y="68.30" font-size="32.2">)</text>
<path d="M-400.40,43.40 H-290.00" stroke="#000" stroke-width="1.7" fill="none"/>
<path d="M-283.60,43.40 H-126.10" stroke="#000" stroke-width="1.7" fill="none"/>
</g>
</svg></body></html>
